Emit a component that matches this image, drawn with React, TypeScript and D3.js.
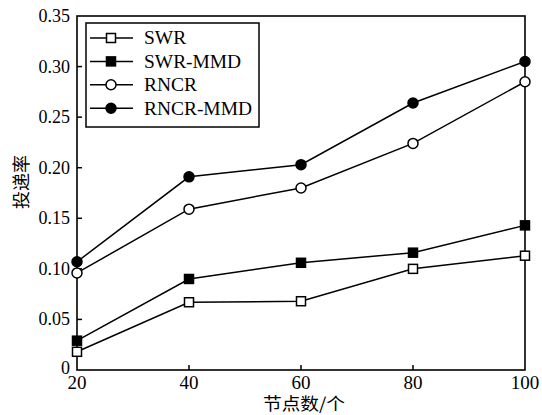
import React from "react";
import * as d3 from "d3";

const nodeCounts = [20, 40, 60, 80, 100];
const swr = [0.018, 0.067, 0.068, 0.1, 0.113];
const swrMmd = [0.029, 0.09, 0.106, 0.116, 0.143];
const rncr = [0.096, 0.159, 0.18, 0.224, 0.285];
const rncrMmd = [0.107, 0.191, 0.203, 0.264, 0.305];
const yTicks = [0, 0.05, 0.1, 0.15, 0.2, 0.25, 0.3, 0.35];
const yTickLabels = ["0", "0.05", "0.10", "0.15", "0.20", "0.25", "0.30", "0.35"];

const seriesList = [
  { name: "SWR", values: swr, shape: "square", filled: false },
  { name: "SWR-MMD", values: swrMmd, shape: "square", filled: true },
  { name: "RNCR", values: rncr, shape: "circle", filled: false },
  { name: "RNCR-MMD", values: rncrMmd, shape: "circle", filled: true },
];

const W = 542;
const H = 415;
const margin = { top: 16, right: 17, bottom: 45, left: 77 };
const serif = "'Liberation Serif', 'Times New Roman', serif";
const cjk = "'Noto Sans CJK SC', sans-serif";

function Marker({ x, y, shape, filled }: { x: number; y: number; shape: string; filled: boolean }) {
  const fill = filled ? "#000" : "#fff";
  if (shape === "square") {
    return <rect x={x - 4.5} y={y - 4.5} width={9} height={9} fill={fill} stroke="#000" strokeWidth={1.5} />;
  }
  return <circle cx={x} cy={y} r={5} fill={fill} stroke="#000" strokeWidth={1.5} />;
}

export default function App() {
  const x = d3.scaleLinear().domain([20, 100]).range([margin.left, W - margin.right]);
  const y = d3.scaleLinear().domain([0, 0.35]).range([H - margin.bottom, margin.top]);
  const line = d3
    .line<number>()
    .x((_, i) => x(nodeCounts[i]))
    .y((d) => y(d));

  const x0 = x(20);
  const x1 = x(100);
  const y0 = y(0);
  const y1 = y(0.35);

  // legend
  const lg = { x: 86, y: 23, w: 173, h: 104 };
  const rowY = (i: number) => 38 + i * 23.4;

  return (
    <svg width={W} height={H} style={{ position: "absolute", left: 0, top: 0, background: "#fff" }}>
      {/* series lines */}
      {seriesList.map((s) => (
        <path key={s.name} d={line(s.values) || ""} fill="none" stroke="#000" strokeWidth={1.5} />
      ))}

      {/* frame */}
      <rect x={x0} y={y1} width={x1 - x0} height={y0 - y1} fill="none" stroke="#000" strokeWidth={1.6} />

      {/* y ticks */}
      {yTicks.map((t, i) => (
        <g key={t}>
          {i > 0 && i < yTicks.length - 1 && (
            <line x1={x0} x2={x0 + 5} y1={y(t)} y2={y(t)} stroke="#000" strokeWidth={1.5} />
          )}
          <text x={x0 - 7} y={y(t) - (i === 0 ? 2 : 0)} textAnchor="end" dy="0.33em" fontFamily={serif} fontSize={18}>
            {yTickLabels[i]}
          </text>
        </g>
      ))}

      {/* x ticks */}
      {nodeCounts.map((n, i) => (
        <g key={n}>
          {i > 0 && i < nodeCounts.length - 1 && (
            <line x1={x(n)} x2={x(n)} y1={y0} y2={y0 - 5} stroke="#000" strokeWidth={1.5} />
          )}
          <text x={x(n)} y={y0 + 19} textAnchor="middle" fontFamily={serif} fontSize={19}>
            {n}
          </text>
        </g>
      ))}

      {/* markers */}
      {seriesList.map((s) =>
        s.values.map((v, i) => (
          <Marker key={s.name + i} x={x(nodeCounts[i])} y={y(v)} shape={s.shape} filled={s.filled} />
        ))
      )}

      {/* legend */}
      <rect x={lg.x} y={lg.y} width={lg.w} height={lg.h} fill="#fff" stroke="#000" strokeWidth={1.5} />
      {seriesList.map((s, i) => (
        <g key={s.name}>
          <line x1={90} x2={133} y1={rowY(i)} y2={rowY(i)} stroke="#000" strokeWidth={1.5} />
          <Marker x={111} y={rowY(i)} shape={s.shape} filled={s.filled} />
          <g transform={`translate(144,${rowY(i)}) scale(1.08,1)`}>
            <text dy="0.35em" fontFamily={serif} fontSize={18}>
              {s.name}
            </text>
          </g>
        </g>
      ))}

      {/* axis titles */}
      <g transform={`translate(304,410) scale(1.1,1)`}>
        <text textAnchor="middle" fontFamily={cjk} fontSize={17}>
          节点数/个
        </text>
      </g>
      <g transform={`translate(22,182) rotate(-90)`}>
        <text textAnchor="middle" dy="0.35em" fontFamily={cjk} fontSize={18}>
          投递率
        </text>
      </g>
    </svg>
  );
}
